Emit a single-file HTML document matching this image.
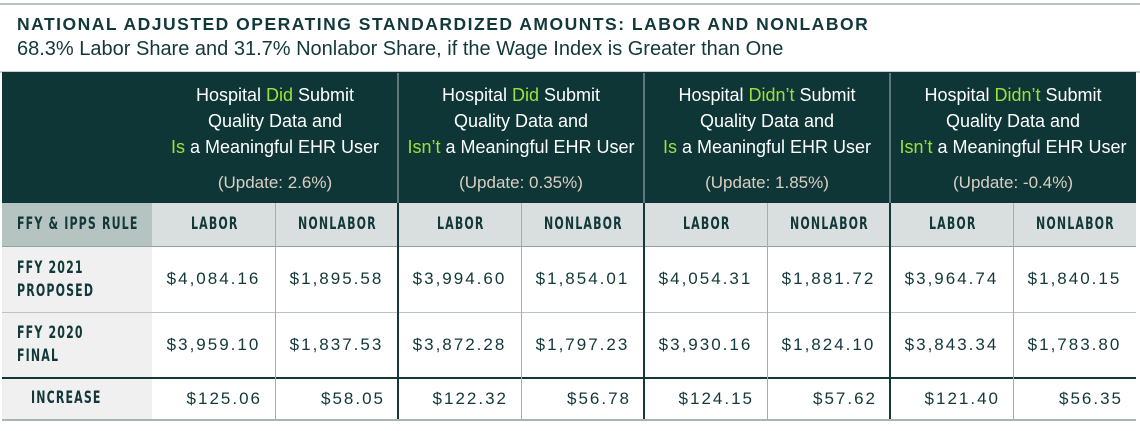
<!DOCTYPE html>
<html><head><meta charset="utf-8"><style>
*{margin:0;padding:0;box-sizing:border-box}
body{width:1140px;height:431px;background:#fff;position:relative;overflow:hidden;font-family:"Liberation Sans",sans-serif;color:#12383a}
.a{position:absolute}
.t1{left:17px;top:14px;font-size:17.5px;font-weight:bold;letter-spacing:1.5px;color:#12383a;white-space:nowrap}
.t2{left:17px;top:38px;font-size:20px;color:#12383a;white-space:nowrap}
.hd{top:72px;height:131px;background:#0f3636}
.hx{color:#fff;font-size:18px;line-height:26px;text-align:center;top:82px;width:246px;white-space:nowrap}
.up{color:#d8cfc2;font-size:17px;text-align:center;top:173px;width:246px}
.g{color:#9be13b}
.cond{font-family:"DejaVu Sans Condensed","Liberation Sans Narrow",sans-serif;font-weight:bold;letter-spacing:1.6px;font-size:17px;color:#12383a;transform:scaleX(.72);transform-origin:left center;white-space:nowrap}
.num{font-size:17px;letter-spacing:2px;color:#12383a;width:123px;text-align:center;white-space:nowrap}
.r{text-align:right;width:110px;letter-spacing:2px}
</style></head><body>
<div class="a" style="left:0;top:3px;width:1140px;height:2px;background:#b8c2c0"></div>
<div class="a t1">NATIONAL ADJUSTED OPERATING STANDARDIZED AMOUNTS: LABOR AND NONLABOR</div>
<div class="a t2">68.3% Labor Share and 31.7% Nonlabor Share, if the Wage Index is Greater than One</div>
<div class="a" style="left:0;top:71px;width:1140px;height:2px;background:#c8d0ce"></div>
<div class="a hd" style="left:2px;width:1134px"></div>
<div class="a" style="left:397px;top:73px;width:2px;height:130px;background:#5d7876"></div>
<div class="a" style="left:643px;top:73px;width:2px;height:130px;background:#5d7876"></div>
<div class="a" style="left:889px;top:73px;width:2px;height:130px;background:#5d7876"></div>

<div class="a hx" style="left:152px">Hospital <span class="g">Did</span> Submit<br>Quality Data and<br><span class="g">Is</span> a Meaningful EHR User</div>
<div class="a hx" style="left:398px">Hospital <span class="g">Did</span> Submit<br>Quality Data and<br><span class="g">Isn’t</span> a Meaningful EHR User</div>
<div class="a hx" style="left:644px">Hospital <span class="g">Didn’t</span> Submit<br>Quality Data and<br><span class="g">Is</span> a Meaningful EHR User</div>
<div class="a hx" style="left:890px">Hospital <span class="g">Didn’t</span> Submit<br>Quality Data and<br><span class="g">Isn’t</span> a Meaningful EHR User</div>
<div class="a up" style="left:152px">(Update: 2.6%)</div>
<div class="a up" style="left:398px">(Update: 0.35%)</div>
<div class="a up" style="left:644px">(Update: 1.85%)</div>
<div class="a up" style="left:890px">(Update: -0.4%)</div>

<div class="a" style="left:2px;top:203px;width:150px;height:43px;background:#b5c3c1"></div>
<div class="a" style="left:152px;top:203px;width:984px;height:43px;background:#d9dfde"></div>
<div class="a" style="left:2px;top:247px;width:150px;height:172px;background:#f0f0f0"></div>
<div class="a" style="left:2px;top:246px;width:1134px;height:1px;background:#8fa3a1"></div>
<div class="a" style="left:2px;top:312px;width:1134px;height:1px;background:#b9c4c2"></div>
<div class="a" style="left:2px;top:377px;width:1134px;height:2px;background:#12383a"></div>
<div class="a" style="left:2px;top:419px;width:1134px;height:2px;background:#a9b5b3"></div>
<div class="a" style="left:275px;top:203px;width:1px;height:216px;background:#9fb0ae"></div>
<div class="a" style="left:521px;top:203px;width:1px;height:216px;background:#9fb0ae"></div>
<div class="a" style="left:767px;top:203px;width:1px;height:216px;background:#9fb0ae"></div>
<div class="a" style="left:1013px;top:203px;width:1px;height:216px;background:#9fb0ae"></div>
<div class="a" style="left:397px;top:203px;width:2px;height:216px;background:#12383a"></div>
<div class="a" style="left:643px;top:203px;width:2px;height:216px;background:#12383a"></div>
<div class="a" style="left:889px;top:203px;width:2px;height:216px;background:#12383a"></div>

<div class="a cond" style="left:17px;top:214px">FFY &amp; IPPS RULE</div>
<div class="a cond" style="left:191px;top:214px">LABOR</div>
<div class="a cond" style="left:298px;top:214px">NONLABOR</div>
<div class="a cond" style="left:437px;top:214px">LABOR</div>
<div class="a cond" style="left:544px;top:214px">NONLABOR</div>
<div class="a cond" style="left:683px;top:214px">LABOR</div>
<div class="a cond" style="left:790px;top:214px">NONLABOR</div>
<div class="a cond" style="left:929px;top:214px">LABOR</div>
<div class="a cond" style="left:1036px;top:214px">NONLABOR</div>

<div class="a cond" style="left:17px;top:257px;line-height:23px">FFY 2021<br>PROPOSED</div>
<div class="a cond" style="left:17px;top:322px;line-height:23px">FFY 2020<br>FINAL</div>
<div class="a cond" style="left:31px;top:388px">INCREASE</div>

<div class="a num" style="left:152px;top:269px">$4,084.16</div>
<div class="a num" style="left:275px;top:269px">$1,895.58</div>
<div class="a num" style="left:398px;top:269px">$3,994.60</div>
<div class="a num" style="left:521px;top:269px">$1,854.01</div>
<div class="a num" style="left:644px;top:269px">$4,054.31</div>
<div class="a num" style="left:767px;top:269px">$1,881.72</div>
<div class="a num" style="left:890px;top:269px">$3,964.74</div>
<div class="a num" style="left:1013px;top:269px">$1,840.15</div>

<div class="a num" style="left:152px;top:335px">$3,959.10</div>
<div class="a num" style="left:275px;top:335px">$1,837.53</div>
<div class="a num" style="left:398px;top:335px">$3,872.28</div>
<div class="a num" style="left:521px;top:335px">$1,797.23</div>
<div class="a num" style="left:644px;top:335px">$3,930.16</div>
<div class="a num" style="left:767px;top:335px">$1,824.10</div>
<div class="a num" style="left:890px;top:335px">$3,843.34</div>
<div class="a num" style="left:1013px;top:335px">$1,783.80</div>

<div class="a num r" style="left:152px;top:389px">$125.06</div>
<div class="a num r" style="left:275px;top:389px">$58.05</div>
<div class="a num r" style="left:398px;top:389px">$122.32</div>
<div class="a num r" style="left:521px;top:389px">$56.78</div>
<div class="a num r" style="left:644px;top:389px">$124.15</div>
<div class="a num r" style="left:767px;top:389px">$57.62</div>
<div class="a num r" style="left:890px;top:389px">$121.40</div>
<div class="a num r" style="left:1013px;top:389px">$56.35</div>
</body></html>
